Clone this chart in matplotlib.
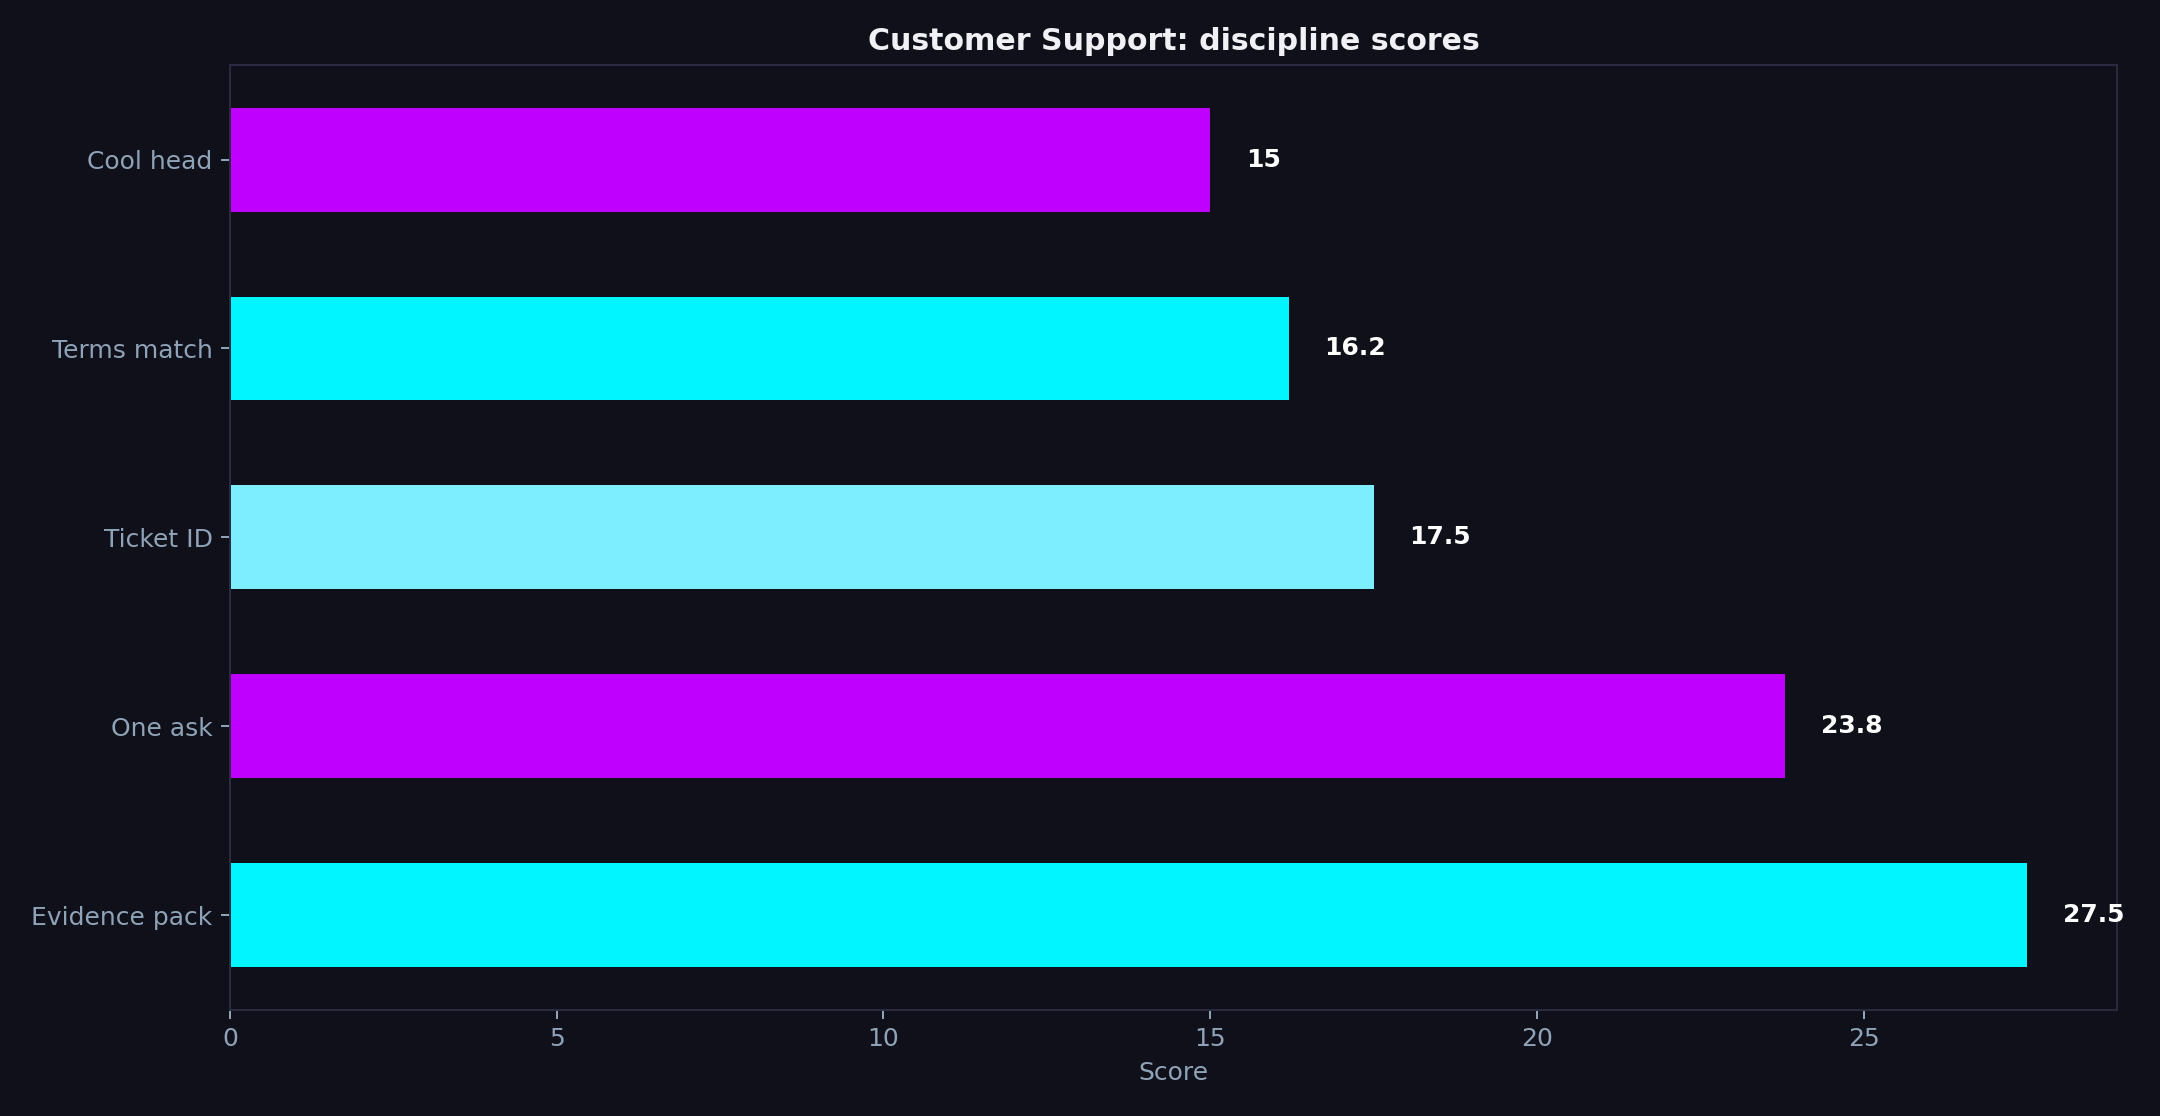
import matplotlib
matplotlib.use('agg')
import matplotlib.pyplot as plt

labels = ['Evidence pack', 'One ask', 'Ticket ID', 'Terms match', 'Cool head']
scores = [27.5, 23.8, 17.5, 16.2, 15.0]
colors = ['#00F5FF', '#BF00FF', '#7DEEFF', '#00F5FF', '#BF00FF']

bg = '#0f1019'
tick_col = '#8fa3b8'

fig, ax = plt.subplots(figsize=(12, 6.2), dpi=180)
fig.patch.set_facecolor(bg)
ax.set_facecolor(bg)

bars = ax.barh(labels, scores, color=colors, height=0.55)
for bar, val in zip(bars, scores):
    txt = str(int(val)) if val == int(val) else str(val)
    ax.text(bar.get_width() + max(scores) * 0.02, bar.get_y() + bar.get_height() / 2, txt,
            va='center', ha='left', color='white', fontweight='bold', fontsize=10)

ax.set_title('Customer Support: discipline scores', color='#f0f0f5', fontweight='bold', fontsize=12)
ax.set_xlabel('Score', color=tick_col, fontsize=10)
ax.tick_params(colors=tick_col, labelsize=10)
for s in ax.spines.values():
    s.set_color('#2a2a40')

plt.subplots_adjust(left=0.1065, right=0.98, top=0.942, bottom=0.095)
plt.savefig('out.png', facecolor=bg)
plt.close()
